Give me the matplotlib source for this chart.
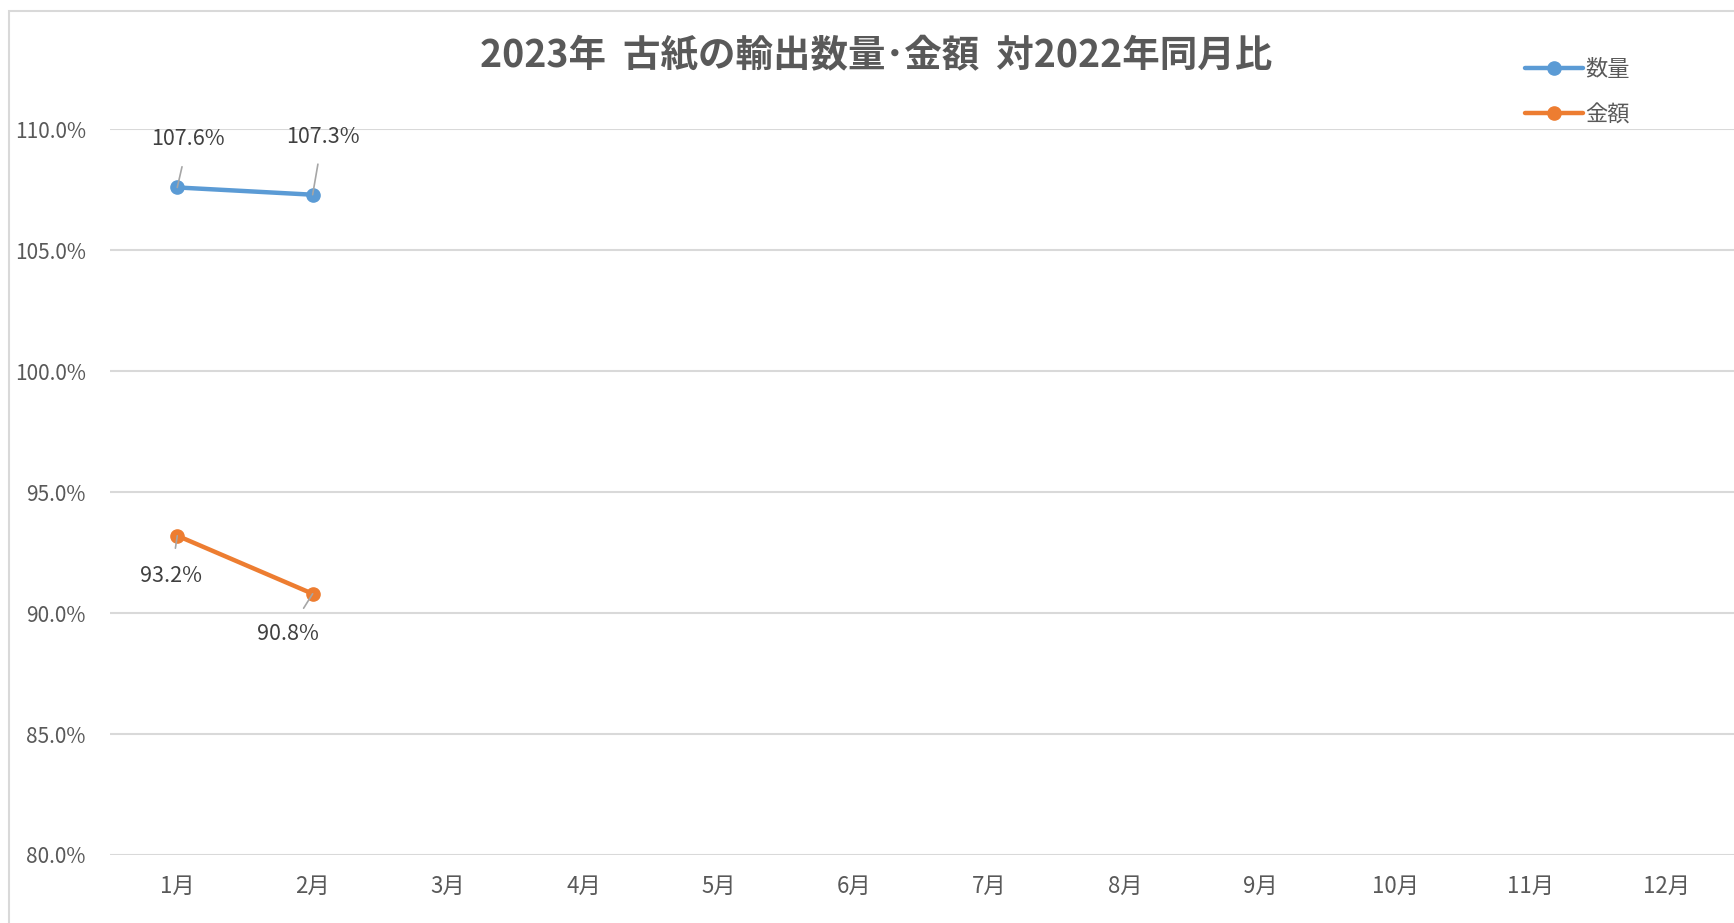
import numpy as np
import matplotlib.pyplot as plt
from matplotlib.patches import Rectangle
from matplotlib.ticker import FuncFormatter

plt.rcParams['font.family'] = ['Noto Sans CJK JP', 'DejaVu Sans']

months = [f"{m}月" for m in range(1, 13)]
qty = [107.6, 107.3]      # 数量 (%)
amount = [93.2, 90.8]     # 金額 (%)
yticks = [80, 85, 90, 95, 100, 105, 110]

title = "2023年  古紙の輸出数量･金額  対2022年同月比"
blue = "#5B9BD5"
orange = "#ED7D31"
grid_c = "#D9D9D9"
txt_c = "#595959"

fig = plt.figure(figsize=(17.34, 9.23), dpi=100)
# outer chart frame (cropped on the right and bottom)
fig.patches.append(Rectangle((9/1734, -0.1), 1.2, 1 - 11/923 + 0.1,
                             transform=fig.transFigure, fill=False,
                             edgecolor=grid_c, lw=1.5))

ax = fig.add_axes([0.0632, 0.0737, 0.9368, 0.7861])
x = np.arange(len(months))

ax.plot(x[:len(qty)], qty, color=blue, lw=3.2, marker='o', ms=9.5,
        solid_capstyle='round', label='数量', zorder=3)
ax.plot(x[:len(amount)], amount, color=orange, lw=3.2, marker='o', ms=9.5,
        solid_capstyle='round', label='金額', zorder=3)

ax.set_xlim(-0.5, len(months) - 0.5)
ax.set_ylim(80, 110)
ax.set_yticks(yticks)
ax.yaxis.set_major_formatter(FuncFormatter(lambda v, p: f"{v:.1f}%"))
ax.set_xticks(x)
ax.set_xticklabels(months)
ax.tick_params(axis='both', length=0, colors=txt_c)
ax.tick_params(axis='y', pad=17, labelsize=15)
ax.tick_params(axis='x', pad=14, labelsize=16)
ax.grid(axis='y', color=grid_c, lw=1.5)
ax.set_axisbelow(True)
for s in ax.spines.values():
    s.set_visible(False)

# data labels with leader lines (offsets in pixels, +y is up)
offsets_qty = [(11, 48), (10, 58)]
offsets_amt = [(-6, -40), (-25, -40)]
leader = dict(arrowstyle='-', color='#A6A6A6', lw=1.2, shrinkA=10, shrinkB=0)
for i, v in enumerate(qty):
    ax.annotate(f"{v:.1f}%", (x[i], v), xytext=offsets_qty[i],
                textcoords='offset pixels', ha='center', va='center',
                fontsize=15.5, color='#404040', arrowprops=leader)
for i, v in enumerate(amount):
    ax.annotate(f"{v:.1f}%", (x[i], v), xytext=offsets_amt[i],
                textcoords='offset pixels', ha='center', va='center',
                fontsize=15.5, color='#404040', arrowprops=leader)

fig.text(876/1734, 1 - 55/923, title, ha='center', va='center',
         fontsize=27, fontweight='bold', color=txt_c)

leg = fig.legend(loc='upper left', bbox_to_anchor=(1516/1734, 1 - 49/923),
                 frameon=False, fontsize=16, handlelength=2.6,
                 handletextpad=0.1, labelspacing=1.0, borderaxespad=0)
for t in leg.get_texts():
    t.set_color(txt_c)

fig.savefig("out.png", dpi=100)
